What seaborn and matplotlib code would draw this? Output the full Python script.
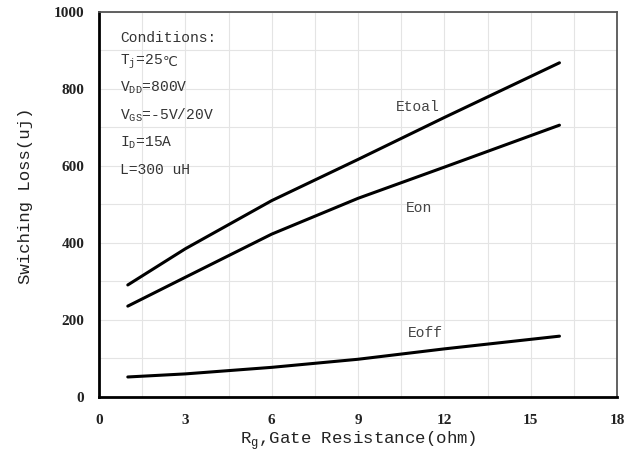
import numpy as np
import pandas as pd
import seaborn as sns
import matplotlib.pyplot as plt
from matplotlib.ticker import MultipleLocator

# Values
rg = [1, 3, 6, 9, 12, 16]
etotal = [291, 385, 510, 617, 726, 868]
eon = [236, 311, 423, 516, 597, 706]
eoff = [52, 60, 77, 98, 125, 158]

df = pd.DataFrame({
    'Rg': rg * 3,
    'Loss': etotal + eon + eoff,
    'Curve': ['Etoal'] * len(rg) + ['Eon'] * len(rg) + ['Eoff'] * len(rg),
})

sns.set_style('white')
plt.rcParams['font.family'] = ['Liberation Mono', 'DejaVu Sans']
plt.rcParams['mathtext.fontset'] = 'custom'
plt.rcParams['mathtext.rm'] = 'Liberation Mono'

fig = plt.figure(figsize=(6.38, 4.57), dpi=100)
ax = fig.add_axes([0.1552, 0.1313, 0.8119, 0.8425])

sns.lineplot(data=df, x='Rg', y='Loss', units='Curve', estimator=None,
             color='black', linewidth=2.2, ax=ax, legend=False)

ax.set_xlim(0, 18)
ax.set_ylim(0, 1000)
ax.xaxis.set_major_locator(MultipleLocator(3))
ax.xaxis.set_minor_locator(MultipleLocator(1.5))
ax.yaxis.set_major_locator(MultipleLocator(200))
ax.yaxis.set_minor_locator(MultipleLocator(100))
ax.grid(which='both', color='#e4e4e4', linewidth=0.8)
ax.set_axisbelow(True)

for s in ['left', 'bottom']:
    ax.spines[s].set_color('black')
    ax.spines[s].set_linewidth(2)
for s in ['top', 'right']:
    ax.spines[s].set_color('#555555')
    ax.spines[s].set_linewidth(1.3)

ax.tick_params(axis='both', which='major', direction='out', length=7, width=2,
               labelsize=11, colors='black')
ax.tick_params(axis='both', which='minor', length=0)
ax.tick_params(axis='x', pad=5)
for lab in ax.get_xticklabels() + ax.get_yticklabels():
    lab.set_fontfamily(['Liberation Serif', 'DejaVu Serif'])
    lab.set_fontweight('bold')
    lab.set_color('#222222')

ax.set_xlabel('R$_\\mathregular{g}$,Gate Resistance(ohm)', fontsize=12.5,
              labelpad=2, color='#222222')
ax.set_ylabel('Swiching Loss(uj)', fontsize=12.5, color='#222222')
ax.yaxis.set_label_coords(-0.127, 0.522)

# Conditions block
cond = ['Conditions:', 'T$_\\mathregular{j}$=25', 'V$_\\mathregular{DD}$=800V',
        'V$_\\mathregular{GS}$=-5V/20V', 'I$_\\mathregular{D}$=15A', 'L=300 uH']
cond_y = [932, 870, 803, 732, 660, 590]
for t, yv in zip(cond, cond_y):
    txt = ax.text(0.73, yv, t, fontsize=10.5, va='center', ha='left',
                  color='#333333')
    if t.endswith('=25'):
        ax.annotate('℃', xy=(1, 0.5), xycoords=txt, va='center', ha='left',
                    fontsize=9.5, color='#333333',
                    family=['DejaVu Sans'])

ax.text(10.3, 753, 'Etoal', fontsize=10.5, color='#444444', va='center')
ax.text(10.67, 491, 'Eon', fontsize=10.5, color='#444444', va='center')
ax.text(10.74, 166, 'Eoff', fontsize=10.5, color='#444444', va='center')

plt.savefig('out.png', dpi=100)
